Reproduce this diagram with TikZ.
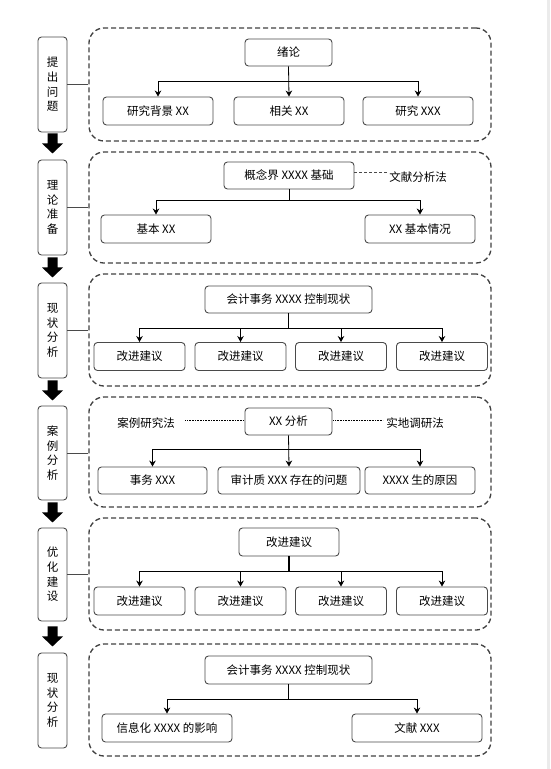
\documentclass[tikz,border=0pt]{standalone}
\usepackage{fontspec}
\setmainfont{Noto Sans CJK SC}
\usetikzlibrary{arrows.meta,calc}
\definecolor{boxgray}{HTML}{4A4A4A}
\definecolor{dashgray}{HTML}{404040}
\definecolor{stripgray}{HTML}{EBEBEB}
\newcommand\fs{\fontsize{11.5}{14.7}\selectfont}
\newcommand\blockarrow[1]{\fill[black] (#1) ++(-5,0) -- ++(10,0) -- ++(0,10) -- ++(5.5,0) -- ++(-10.5,10) -- ++(-10.5,-10) -- ++(5.5,0) -- cycle;}
\begin{document}
\begin{tikzpicture}[x=1pt,y=-1pt,
  box/.style={draw=boxgray, line width=0.9pt, rounded corners=3.5pt, inner sep=0pt, font=\fs, text=black},
  lbl/.style={box, minimum width=29pt, minimum height=95pt, align=center},
  cont/.style={draw=dashgray, line width=1.3pt, dash pattern=on 5pt off 3pt, rounded corners=15pt, inner sep=0pt, minimum width=402pt},
  arr/.style={-{Stealth[length=6pt,width=6.5pt]}, line width=0.8pt, draw=black},
  link/.style={line width=0.8pt, draw=black},
  conn/.style={line width=0.8pt, draw=boxgray},
  txt/.style={inner sep=1pt, font=\fs, text=black}]
\useasboundingbox (0,0) rectangle (550,769);
\fill[stripgray] (547,0) rectangle (550,769);

% ---------- section 1
\node[cont, minimum height=113pt] (C1) at (290,84.5) {};
\node[lbl] (L1) at (52.5,84.5) {提\\出\\问\\题};
\node[box, minimum width=87pt, minimum height=27pt] (T1) at (288.5,52.5) {绪论};
\node[box, minimum width=110pt, minimum height=28pt] (c11) at (158,111) {研究背景 XX};
\node[box, minimum width=110pt, minimum height=28pt] (c12) at (289,111) {相关 XX};
\node[box, minimum width=110pt, minimum height=28pt] (c13) at (418,111) {研究 XXX};
\coordinate (y1) at (0,81);
\coordinate (b1) at (T1.south |- y1);
\draw[arr] (T1.south) -- (c12.north);
\draw[arr] (b1) -| (c11.north);
\draw[arr] (b1) -| (c13.north);
\draw[conn] (L1.east) -- (L1.east -| C1.west);

% ---------- section 2
\node[cont, minimum height=111pt] (C2) at (290,207.5) {};
\node[lbl] (L2) at (52.5,207.5) {理\\论\\准\\备};
\node[box, minimum width=130pt, minimum height=27pt] (T2) at (289,175.5) {概念界 XXXX 基础};
\node[txt] (M2) at (418,177) {文献分析法};
\node[box, minimum width=110pt, minimum height=28pt] (c21) at (156,229) {基本 XX};
\node[box, minimum width=110pt, minimum height=28pt] (c22) at (420,229) {XX 基本情况};
\draw[densely dashed, line width=0.6pt, draw=boxgray] ([yshift=3pt]T2.east) -- ([yshift=3pt]T2.east -| M2.west);
\coordinate (y2) at (0,200);
\coordinate (b2) at (T2.south |- y2);
\draw[link] (T2.south) -- (b2);
\draw[arr] (b2) -| (c21.north);
\draw[arr] (b2) -| (c22.north);
\draw[conn] (L2.east) -- (L2.east -| C2.west);

% ---------- section 3
\node[cont, minimum height=112pt] (C3) at (290,330) {};
\node[lbl] (L3) at (52.5,330.5) {现\\状\\分\\析};
\node[box, minimum width=167pt, minimum height=27pt] (T3) at (288.5,299.5) {会计事务 XXXX 控制现状};
\node[box, minimum width=91pt, minimum height=28pt] (c31) at (139.5,356.5) {改进建议};
\node[box, minimum width=91pt, minimum height=28pt] (c32) at (240.5,356.5) {改进建议};
\node[box, minimum width=91pt, minimum height=28pt] (c33) at (341,356.5) {改进建议};
\node[box, minimum width=91pt, minimum height=28pt] (c34) at (442,356.5) {改进建议};
\coordinate (y3) at (0,328);
\coordinate (b3) at (T3.south |- y3);
\draw[link, line width=1.3pt] (T3.south) -- (b3);
\draw[arr] (b3) -| (c31.north);
\draw[arr] (b3) -| (c32.north);
\draw[arr] (b3) -| (c33.north);
\draw[arr] (b3) -| (c34.north);
\draw[conn] (L3.east) -- (L3.east -| C3.west);

% ---------- section 4
\node[cont, minimum height=110pt] (C4) at (290,452) {};
\node[lbl, minimum height=94pt] (L4) at (52.5,453) {案\\例\\分\\析};
\node[box, minimum width=87pt, minimum height=27pt] (T4) at (288.5,421.5) {XX 分析};
\node[txt] (M41) at (146,423) {案例研究法};
\node[txt] (M42) at (415,423) {实地调研法};
\node[box, minimum width=109pt, minimum height=27pt] (c41) at (152.5,480.5) {事务 XXX};
\node[box, minimum width=142pt, minimum height=27pt] (c42) at (289,480.5) {审计质 XXX 存在的问题};
\node[box, minimum width=110pt, minimum height=27pt] (c43) at (420,480.5) {XXXX 生的原因};
\draw[densely dotted, line width=0.6pt] ([xshift=-1pt,yshift=1.5pt]T4.west) -- ([xshift=9pt,yshift=1.5pt]T4.west -| M41.east);
\draw[densely dotted, line width=0.6pt] ([xshift=1pt,yshift=1.5pt]T4.east) -- ([xshift=-2pt,yshift=1.5pt]T4.east -| M42.west);
\coordinate (y4) at (0,449);
\coordinate (b4) at (T4.south |- y4);
\draw[arr] (T4.south) -- (c42.north);
\draw[arr] (b4) -| (c41.north);
\draw[arr] (b4) -| (c43.north);
\draw[conn] (L4.east) -- (L4.east -| C4.west);

% ---------- section 5
\node[cont, minimum height=112pt] (C5) at (290,574) {};
\node[lbl, minimum height=93pt] (L5) at (52.5,574.5) {优\\化\\建\\设};
\node[box, minimum width=100pt, minimum height=28pt] (T5) at (289,542) {改进建议};
\node[box, minimum width=91pt, minimum height=28pt] (c51) at (139.5,601) {改进建议};
\node[box, minimum width=91pt, minimum height=28pt] (c52) at (240.5,601) {改进建议};
\node[box, minimum width=91pt, minimum height=28pt] (c53) at (341,601) {改进建议};
\node[box, minimum width=91pt, minimum height=28pt] (c54) at (442,601) {改进建议};
\coordinate (y5) at (0,571);
\coordinate (b5) at (T5.south |- y5);
\draw[link, line width=1.3pt] (T5.south) -- (b5);
\draw[arr] (b5) -| (c51.north);
\draw[arr] (b5) -| (c52.north);
\draw[arr] (b5) -| (c53.north);
\draw[arr] (b5) -| (c54.north);
\draw[conn] (L5.east) -- (L5.east -| C5.west);

% ---------- section 6
\node[cont, minimum height=112pt] (C6) at (290,700) {};
\node[lbl] (L6) at (52.5,700.5) {现\\状\\分\\析};
\node[box, minimum width=167pt, minimum height=28pt] (T6) at (288.5,670) {会计事务 XXXX 控制现状};
\node[box, minimum width=130pt, minimum height=28pt] (c61) at (167,728) {信息化 XXXX 的影响};
\node[box, minimum width=130pt, minimum height=28pt] (c62) at (417,728) {文献 XXX};
\coordinate (y6) at (0,699);
\coordinate (b6) at (T6.south |- y6);
\draw[link] (T6.south) -- (b6);
\draw[arr] (b6) -| (c61.north);
\draw[arr] (b6) -| (c62.north);

% ---------- block arrows between stages
\path (L1.south) ++(0,1) coordinate (a1);
\path (L2.south) ++(0,2) coordinate (a2);
\path (L3.south) ++(0,2) coordinate (a3);
\path (L4.south) ++(0,2) coordinate (a4);
\path (L5.south) ++(0,5) coordinate (a5);
\blockarrow{a1}
\blockarrow{a2}
\blockarrow{a3}
\blockarrow{a4}
\blockarrow{a5}
\end{tikzpicture}
\end{document}
